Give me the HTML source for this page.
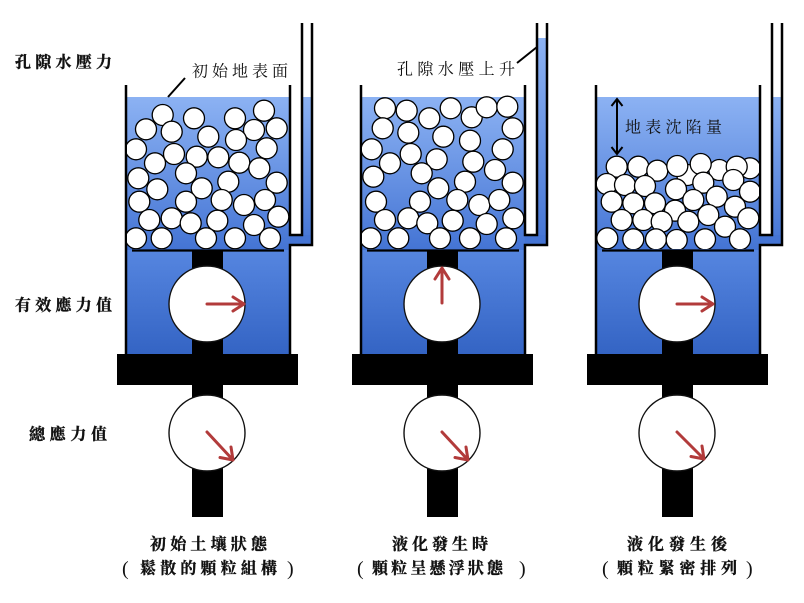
<!DOCTYPE html>
<html><head><meta charset="utf-8"><style>
html,body{margin:0;padding:0;background:#fff;}
svg{display:block;}
.lbl{font-family:"Liberation Serif","Noto Serif CJK SC",serif;font-weight:700;font-size:16px;fill:#111;stroke:#111;stroke-width:0.35;}
.in{font-family:"Liberation Serif","Noto Serif CJK SC",serif;font-weight:400;font-size:16px;fill:#111;}
.par{font-family:"Liberation Serif",serif;font-weight:400;font-size:20px;fill:#111;}
</style></head><body>
<svg width="804" height="603" viewBox="0 0 804 603" xmlns="http://www.w3.org/2000/svg">
<defs>
<linearGradient id="gU" x1="0" y1="0" x2="0" y2="1"><stop offset="0" stop-color="#8cb2f3"/><stop offset="1" stop-color="#4474d4"/></linearGradient>
<linearGradient id="gL" x1="0" y1="0" x2="0" y2="1"><stop offset="0" stop-color="#5686e0"/><stop offset="1" stop-color="#3464c4"/></linearGradient>
<linearGradient id="gT" x1="0" y1="0" x2="0" y2="1"><stop offset="0" stop-color="#8cb2f3"/><stop offset="1" stop-color="#4474d4"/></linearGradient>
<g id="frame">
  <rect x="126" y="97" width="164" height="153" fill="url(#gU)"/>
  <rect x="126" y="250" width="164" height="104" fill="url(#gL)"/>
  <rect x="290" y="235" width="22" height="10" fill="#4474d4"/>
  <rect x="192" y="250" width="31" height="267" fill="#000"/>
  <rect x="117" y="354" width="181" height="31" fill="#000"/>
  <line x1="132" y1="250.5" x2="284" y2="250.5" stroke="#000" stroke-width="2.2"/>
  <path d="M126,85 V354 M290,85 V235 H302 V23 M312,23 V245 H290 V354" fill="none" stroke="#000" stroke-width="2.5"/>
  <circle cx="207" cy="304" r="38" fill="#fff" stroke="#111" stroke-width="1.4"/>
  <circle cx="207" cy="433" r="38" fill="#fff" stroke="#111" stroke-width="1.4"/>
</g>
<clipPath id="c1"><rect x="127" y="90" width="162" height="159"/></clipPath>
<clipPath id="c2"><rect x="362" y="90" width="162" height="159"/></clipPath>
<clipPath id="c3"><rect x="597" y="90" width="162" height="159"/></clipPath>
</defs>

<rect x="302" y="97" width="10" height="148" fill="url(#gT)"/>
<rect x="537" y="38" width="11" height="207" fill="url(#gT)"/>
<rect x="772" y="97" width="11" height="148" fill="url(#gT)"/>

<use href="#frame"/>
<use href="#frame" x="235"/>
<use href="#frame" x="470"/>

<g clip-path="url(#c1)" fill="#fff" stroke="#000" stroke-width="1.3">
<circle cx="162.7" cy="115" r="10.5"/><circle cx="194" cy="118.3" r="10.5"/><circle cx="235" cy="118.3" r="10.5"/><circle cx="264" cy="110.7" r="10.5"/>
<circle cx="276.7" cy="128.3" r="10.5"/><circle cx="254" cy="130" r="10.5"/><circle cx="146" cy="129.3" r="10.5"/><circle cx="171.7" cy="131.7" r="10.5"/>
<circle cx="208.3" cy="136.7" r="10.5"/><circle cx="236" cy="140" r="10.5"/><circle cx="266.7" cy="148.3" r="10.5"/><circle cx="136" cy="149.3" r="10.5"/>
<circle cx="174" cy="154" r="10.5"/><circle cx="196.7" cy="156.7" r="10.5"/><circle cx="218.3" cy="157.3" r="10.5"/><circle cx="239.3" cy="162.7" r="10.5"/>
<circle cx="259.3" cy="168.3" r="10.5"/><circle cx="155" cy="163.3" r="10.5"/><circle cx="138.3" cy="178.3" r="10.5"/><circle cx="186" cy="173.3" r="10.5"/>
<circle cx="228.3" cy="181.7" r="10.5"/><circle cx="276.7" cy="182.7" r="10.5"/><circle cx="157.3" cy="189.3" r="10.5"/><circle cx="201.7" cy="188.3" r="10.5"/>
<circle cx="139.3" cy="201.7" r="10.5"/><circle cx="186" cy="201.7" r="10.5"/><circle cx="221.7" cy="200" r="10.5"/><circle cx="244" cy="205" r="10.5"/>
<circle cx="265" cy="200" r="10.5"/><circle cx="149.3" cy="220" r="10.5"/><circle cx="171.7" cy="218.3" r="10.5"/><circle cx="190.7" cy="223.3" r="10.5"/>
<circle cx="217.3" cy="220.7" r="10.5"/><circle cx="254" cy="225" r="10.5"/><circle cx="278.3" cy="216.7" r="10.5"/><circle cx="136" cy="238.3" r="10.5"/>
<circle cx="161.7" cy="238.3" r="10.5"/><circle cx="206" cy="238.3" r="10.5"/><circle cx="235" cy="238.3" r="10.5"/><circle cx="270" cy="238.3" r="10.5"/>
</g>
<g clip-path="url(#c2)" fill="#fff" stroke="#000" stroke-width="1.3">
<circle cx="385" cy="108.3" r="10.5"/><circle cx="406.7" cy="110.7" r="10.5"/><circle cx="429.3" cy="118.3" r="10.5"/><circle cx="450.7" cy="108.3" r="10.5"/>
<circle cx="471.7" cy="117.3" r="10.5"/><circle cx="486.7" cy="107.3" r="10.5"/><circle cx="507.3" cy="106.7" r="10.5"/><circle cx="382.7" cy="128.3" r="10.5"/>
<circle cx="408.3" cy="132.7" r="10.5"/><circle cx="443.3" cy="136.7" r="10.5"/><circle cx="470" cy="140.7" r="10.5"/><circle cx="512.7" cy="128.3" r="10.5"/>
<circle cx="371.7" cy="149.3" r="10.5"/><circle cx="410.7" cy="154" r="10.5"/><circle cx="390" cy="163.3" r="10.5"/><circle cx="436.7" cy="159.3" r="10.5"/>
<circle cx="473.3" cy="161.7" r="10.5"/><circle cx="502.7" cy="149.3" r="10.5"/><circle cx="495" cy="170" r="10.5"/><circle cx="373.3" cy="176.7" r="10.5"/>
<circle cx="421.7" cy="173.3" r="10.5"/><circle cx="465" cy="181.7" r="10.5"/><circle cx="512.7" cy="182.7" r="10.5"/><circle cx="438.3" cy="188.3" r="10.5"/>
<circle cx="376" cy="201.7" r="10.5"/><circle cx="420" cy="201.7" r="10.5"/><circle cx="457.3" cy="200" r="10.5"/><circle cx="479.3" cy="205" r="10.5"/>
<circle cx="499.3" cy="200" r="10.5"/><circle cx="385" cy="220" r="10.5"/><circle cx="408.3" cy="218.3" r="10.5"/><circle cx="427.3" cy="223.3" r="10.5"/>
<circle cx="452.7" cy="220.7" r="10.5"/><circle cx="486.7" cy="224" r="10.5"/><circle cx="513.3" cy="218.3" r="10.5"/><circle cx="370.7" cy="238.3" r="10.5"/>
<circle cx="398.3" cy="238.3" r="10.5"/><circle cx="440" cy="238.3" r="10.5"/><circle cx="470" cy="238.3" r="10.5"/><circle cx="506" cy="238.3" r="10.5"/>
</g>
<g clip-path="url(#c3)" fill="#fff" stroke="#000" stroke-width="1.3">
<circle cx="750" cy="168.3" r="10.5"/><circle cx="616.7" cy="166.7" r="10.5"/><circle cx="638.3" cy="166.7" r="10.5"/><circle cx="657.3" cy="170.7" r="10.5"/>
<circle cx="719.3" cy="170" r="10.5"/><circle cx="606.7" cy="184" r="10.5"/><circle cx="625" cy="185" r="10.5"/><circle cx="645" cy="186" r="10.5"/>
<circle cx="687.3" cy="175" r="10.5"/><circle cx="677.3" cy="166" r="10.5"/><circle cx="700.7" cy="164" r="10.5"/><circle cx="736.7" cy="166.7" r="10.5"/>
<circle cx="703.3" cy="182.7" r="10.5"/><circle cx="733.3" cy="180" r="10.5"/><circle cx="750" cy="191.7" r="10.5"/><circle cx="676" cy="189.3" r="10.5"/>
<circle cx="611.7" cy="201.7" r="10.5"/><circle cx="633.3" cy="203.3" r="10.5"/><circle cx="655" cy="203.3" r="10.5"/><circle cx="693.3" cy="200" r="10.5"/>
<circle cx="716.7" cy="196.7" r="10.5"/><circle cx="735" cy="206.7" r="10.5"/><circle cx="675" cy="210.7" r="10.5"/>
<circle cx="621.7" cy="220" r="10.5"/><circle cx="643.3" cy="220" r="10.5"/><circle cx="688.3" cy="221.7" r="10.5"/><circle cx="708.3" cy="215" r="10.5"/>
<circle cx="725" cy="226.7" r="10.5"/><circle cx="748.3" cy="218.3" r="10.5"/><circle cx="661.7" cy="221.7" r="10.5"/>
<circle cx="607.3" cy="238.3" r="10.5"/><circle cx="633.3" cy="239.3" r="10.5"/><circle cx="656" cy="239.3" r="10.5"/><circle cx="676.7" cy="240" r="10.5"/>
<circle cx="705" cy="239.3" r="10.5"/><circle cx="740" cy="239.3" r="10.5"/>
</g>

<g fill="none" stroke="#b23b3b" stroke-width="3" stroke-linecap="round" stroke-linejoin="round">
<path d="M207,304 H244 M233,297 L244,304 L233,311"/>
<path d="M207,432 L233,460 M231,447 L233,460 L220,457.5"/>
<path d="M442,303 V268 M435,279 L442,268 L449,279"/>
<path d="M442,432 L468,460 M466,447 L468,460 L455,457.5"/>
<path d="M677,304 H713 M702,297 L713,304 L702,311"/>
<path d="M677,432 L704,459 M702,446 L704,459 L691,456.5"/>
</g>

<g stroke="#000" stroke-width="2" fill="none">
<path d="M168,97 L185,78"/>
<path d="M517,63 L537,47"/>
<path d="M617,99 V154 M611.5,106 L617,99 L622.5,106 M611.5,147 L617,154 L622.5,147"/>
</g>

<text class="lbl" x="15" y="63" dominant-baseline="central" textLength="97" lengthAdjust="spacing">孔隙水壓力</text>
<text class="lbl" x="15" y="306" dominant-baseline="central" textLength="97" lengthAdjust="spacing">有效應力值</text>
<text class="lbl" x="29" y="435" dominant-baseline="central" textLength="78" lengthAdjust="spacing">總應力值</text>

<text class="in" x="192" y="72" dominant-baseline="central" textLength="96" lengthAdjust="spacing">初始地表面</text>
<text class="in" x="397" y="70" dominant-baseline="central" textLength="118" lengthAdjust="spacing">孔隙水壓上升</text>
<text class="in" x="625" y="128" dominant-baseline="central" textLength="97" lengthAdjust="spacing">地表沈陷量</text>

<text class="lbl" x="150" y="545" dominant-baseline="central" textLength="117" lengthAdjust="spacing">初始土壤狀態</text>
<text class="par" x="122" y="569" dominant-baseline="central">(</text>
<text class="lbl" x="140" y="569" dominant-baseline="central" textLength="137" lengthAdjust="spacing">鬆散的顆粒組構</text>
<text class="par" x="287" y="569" dominant-baseline="central">)</text>

<text class="lbl" x="392" y="545" dominant-baseline="central" textLength="96" lengthAdjust="spacing">液化發生時</text>
<text class="par" x="357" y="569" dominant-baseline="central">(</text>
<text class="lbl" x="372" y="569" dominant-baseline="central" textLength="131" lengthAdjust="spacing">顆粒呈懸浮狀態</text>
<text class="par" x="519" y="569" dominant-baseline="central">)</text>

<text class="lbl" x="627" y="545" dominant-baseline="central" textLength="100" lengthAdjust="spacing">液化發生後</text>
<text class="par" x="602" y="569" dominant-baseline="central">(</text>
<text class="lbl" x="617" y="569" dominant-baseline="central" textLength="120" lengthAdjust="spacing">顆粒緊密排列</text>
<text class="par" x="746" y="569" dominant-baseline="central">)</text>
</svg>
</body></html>
